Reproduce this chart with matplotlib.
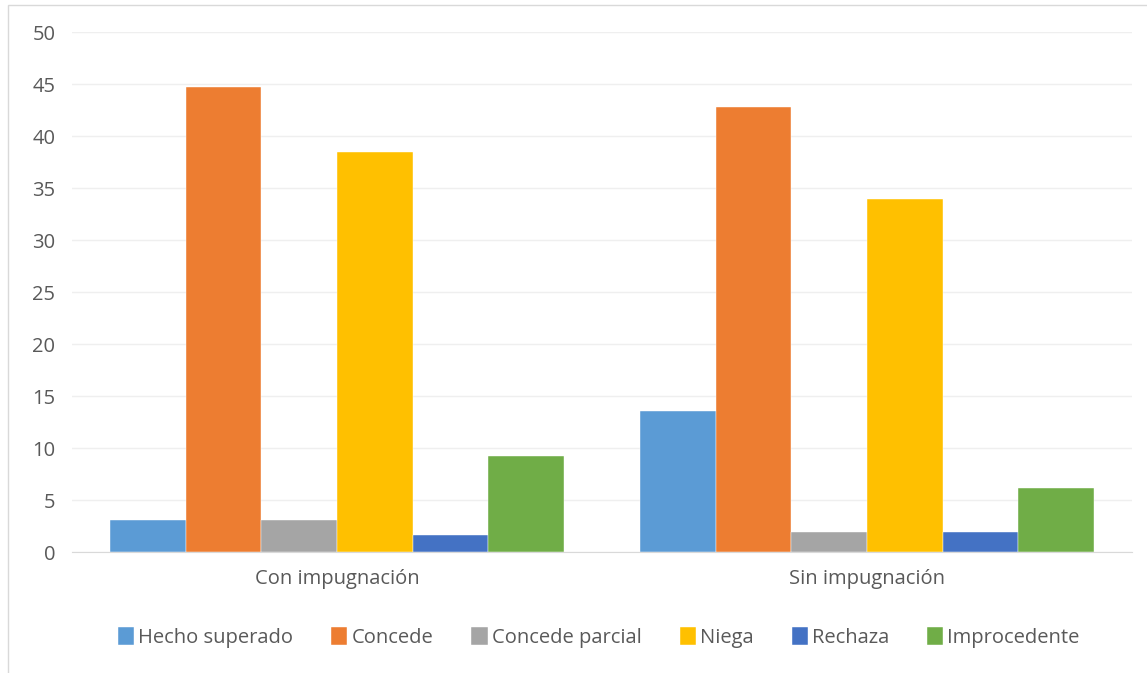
import numpy as np
import matplotlib
matplotlib.use('Agg')
import matplotlib.pyplot as plt
from matplotlib.patches import Rectangle

categories = ['Con impugnación', 'Sin impugnación']
series = ['Hecho superado', 'Concede', 'Concede parcial', 'Niega', 'Rechaza', 'Improcedente']
hecho_superado = [3.1, 13.6]
concede = [44.7, 42.8]
concede_parcial = [3.1, 1.9]
niega = [38.5, 33.9]
rechaza = [1.6, 1.9]
improcedente = [9.2, 6.2]
colors = ['#5B9BD5', '#ED7D31', '#A5A5A5', '#FFC000', '#4472C4', '#70AD47']

values = [hecho_superado, concede, concede_parcial, niega, rechaza, improcedente]

plt.rcParams['font.family'] = ['Open Sans', 'DejaVu Sans']
txt = '#595959'

fig = plt.figure(figsize=(11.47, 6.73), dpi=100)
ax = fig.add_axes([72 / 1147, 121 / 673, 1060 / 1147, 520 / 673])

x = np.arange(len(categories))
w = 1 / 7
for i, (name, vals) in enumerate(zip(series, values)):
    ax.bar(x + (i - 2.5) * w, vals, width=w, color=colors[i], label=name,
           edgecolor='white', linewidth=0.3)

ax.set_xlim(-0.5, 1.5)
ax.set_ylim(0, 50)
ax.set_yticks(range(0, 51, 5))
ax.set_xticks(x)
ax.set_xticklabels(categories)
ax.grid(axis='y', color='#EFEFEF', linewidth=1)
ax.set_axisbelow(True)
for s in ['top', 'right', 'left']:
    ax.spines[s].set_visible(False)
ax.spines['bottom'].set_color('#D9D9D9')
ax.tick_params(axis='both', length=0, colors=txt, labelsize=14.5)
ax.tick_params(axis='y', pad=12)
ax.tick_params(axis='x', pad=12)

ax.legend(loc='center', bbox_to_anchor=(0.497, -0.165), ncol=6, frameon=False,
          fontsize=14.5, labelcolor=txt, handlelength=0.8, handleheight=1.0,
          handletextpad=0.2, columnspacing=1.9)

fig.patches.append(Rectangle((8 / 1147, -0.01), 1.02, 1 - 5 / 673 + 0.01,
                             transform=fig.transFigure, fill=False,
                             edgecolor='#D9D9D9', linewidth=1))

plt.savefig('out.png', dpi=100)
